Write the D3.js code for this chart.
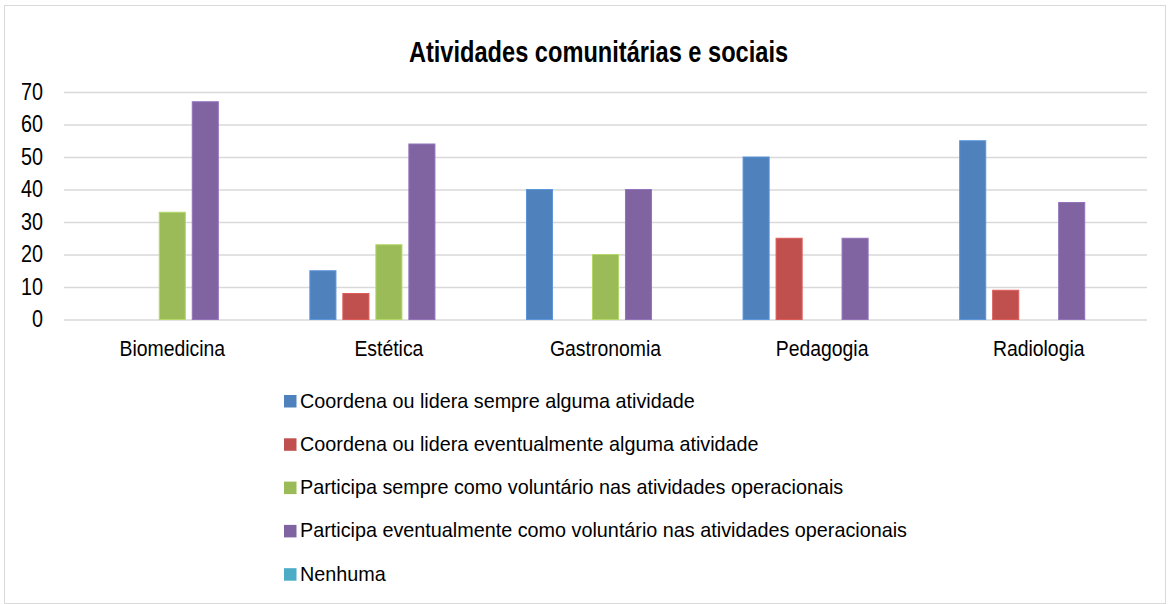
<!DOCTYPE html>
<html><head><meta charset="utf-8">
<script src="https://cdn.jsdelivr.net/npm/d3@7"></script>
<style>body{margin:0;background:#fff}svg{display:block}text{font-family:"Liberation Sans",Arial,sans-serif;fill:#000}</style>
</head><body><svg id="c" width="1172" height="604"></svg>
<script>
const categories = ["Biomedicina","Estética","Gastronomia","Pedagogia","Radiologia"];
const seriesNames = ["Coordena ou lidera sempre alguma atividade","Coordena ou lidera eventualmente alguma atividade","Participa sempre como voluntário nas atividades operacionais","Participa eventualmente como voluntário nas atividades operacionais","Nenhuma"];
const seriesColors = ["#4F81BD","#C0504D","#9BBB59","#8064A2","#4BACC6"];
const coordSempre = [0,15,40,50,55];
const coordEventual = [0,8,0,25,9];
const partSempre = [33,23,20,0,0];
const partEventual = [67,54,40,25,36];
const nenhuma = [0,0,0,0,0];
const yTicks = [0,10,20,30,40,50,60,70];
const title = "Atividades comunitárias e sociais";

const values = [coordSempre, coordEventual, partSempre, partEventual, nenhuma];
const svg = d3.select("#c");
svg.append("rect").attr("x",4.5).attr("y",5.5).attr("width",1161).attr("height",598).attr("fill","#fff").attr("stroke","#d9d9d9").attr("stroke-width",1);

function squeeze(sel, sx){
  sel.each(function(){
    const t = d3.select(this);
    const x = +t.attr("x") || 0;
    t.attr("transform", `translate(${x*(1-sx)},0) scale(${sx},1)`);
  });
}

const L=64,R=1147,T=92,B=319.5;
const y = d3.scaleLinear().domain([0,70]).range([B,T]);
const x0 = d3.scaleBand().domain(categories).range([L,R]).padding(0);
const x1 = d3.scaleBand().domain(d3.range(5)).range([0,x0.bandwidth()]).paddingInner(0.21).paddingOuter(0.887);

const tt = svg.append("text").attr("x",598.5).attr("y",62.3).attr("text-anchor","middle").attr("font-weight","bold").attr("font-size",28.8).text(title);
squeeze(tt, 0.82);

const yAxis = svg.append("g").attr("transform",`translate(${L},0)`)
  .call(d3.axisLeft(y).tickValues(yTicks).tickSize(-(R-L)).tickPadding(21).tickFormat(d3.format("d")));
yAxis.select(".domain").remove();
yAxis.selectAll("line").attr("stroke","#d9d9d9").attr("stroke-width",1.5);
yAxis.selectAll("text").attr("font-size",23).attr("font-family","Liberation Sans, Arial, sans-serif").attr("fill","#000");
squeeze(yAxis.selectAll("text"), 0.86);

const g = svg.append("g");
categories.forEach((c,i)=>{
  values.forEach((vals,s)=>{
    const v = vals[i];
    if(v<=0) return;
    g.append("rect").attr("x",x0(c)+x1(s)).attr("width",x1.bandwidth())
     .attr("y",y(v)).attr("height",y(0)-y(v))
     .attr("fill",seriesColors[s]).attr("stroke",d3.color(seriesColors[s]).brighter(0.4)).attr("stroke-width",1);
  });
});

const xAxis = svg.append("g").attr("transform",`translate(0,${B})`)
  .call(d3.axisBottom(x0).tickSize(0).tickPadding(20.7));
xAxis.select(".domain").remove();
xAxis.selectAll("text").attr("font-size",22.3).attr("font-family","Liberation Sans, Arial, sans-serif").attr("fill","#000");
squeeze(xAxis.selectAll("text"), 0.87);

const lg = svg.append("g");
seriesNames.forEach((n,s)=>{
  const yy = 407.5 + s*43.3;
  lg.append("rect").attr("x",284).attr("y",yy-12.5).attr("width",12.5).attr("height",12.5).attr("fill",seriesColors[s]);
  lg.append("text").attr("x",300).attr("y",yy).attr("font-size",19.8).text(n);
});
</script></body></html>
